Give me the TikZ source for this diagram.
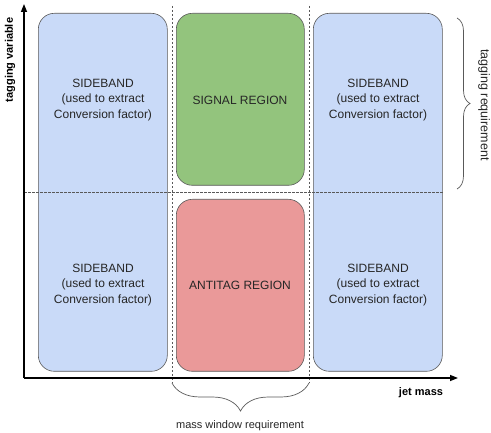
\documentclass[tikz,border=0pt]{standalone}
\usepackage{fontspec}
\setmainfont{Liberation Sans}
\usetikzlibrary{arrows.meta,decorations.pathreplacing}
\definecolor{sideblue}{HTML}{C9DAF8}
\definecolor{siggreen}{HTML}{93C47D}
\definecolor{antired}{HTML}{EA9999}
\definecolor{edgegray}{HTML}{595959}
\begin{document}
\begin{tikzpicture}[x=1pt,y=-1pt,
  region/.style={draw=edgegray,line width=0.6pt,rounded corners=16pt,inner sep=0pt},
  lbl/.style={font=\fontsize{12}{15.5}\selectfont,align=center,text=black!85},
  sep/.style={draw=edgegray,line width=0.6pt,dash pattern=on 2.5pt off 1.5pt},
  brc/.style={draw=edgegray,line width=0.7pt,decorate},
  axis/.style={line width=1.4pt,-{Triangle[length=8pt,width=6pt]}}]
\useasboundingbox (0,0) rectangle (491,433);
% regions
\node[region,fill=sideblue,minimum width=129pt,minimum height=358pt,anchor=north west] (sbl) at (38,13) {};
\node[region,fill=sideblue,minimum width=129pt,minimum height=358pt,anchor=north west] (sbr) at (313,13) {};
\node[region,fill=siggreen,minimum width=128pt,minimum height=172pt,anchor=north west] (sig) at (176,13) {};
\node[region,fill=antired,minimum width=128pt,minimum height=172pt,anchor=north west] (anti) at (176,199) {};
% labels
\node[lbl] (t1) at (103,100) {SIDEBAND\\(used to extract\\Conversion factor)};
\node[lbl] (t2) at (103,285) {SIDEBAND\\(used to extract\\Conversion factor)};
\node[lbl] (t3) at (378,100) {SIDEBAND\\(used to extract\\Conversion factor)};
\node[lbl] (t4) at (378,285) {SIDEBAND\\(used to extract\\Conversion factor)};
\node[lbl] (t5) at (240,100) {SIGNAL REGION};
\node[lbl] (t6) at (240,285) {ANTITAG REGION};
% dashed separators
\coordinate (v1t) at (172,6); \coordinate (v1b) at (172,383);
\coordinate (v2t) at (309,6); \coordinate (v2b) at (309,383);
\coordinate (hl) at (24,192); \coordinate (hr) at (443,192);
\draw[sep] (v1t) -- (v1b);
\draw[sep] (v2t) -- (v2b);
\draw[sep] (hl) -- (hr);
% axes
\coordinate (o) at (24,378);
\coordinate (ytip) at (24,4);
\coordinate (xtip) at (458,378);
\draw[axis] (o) -- (ytip);
\draw[axis] (o) -- (xtip);
\node[font=\bfseries\fontsize{11}{12}\selectfont,rotate=90] (yl) at (10,60) {tagging variable};
\node[font=\bfseries\fontsize{11}{12}\selectfont] (xl) at (421,393) {jet mass};
% braces
\coordinate (b1a) at (457,18); \coordinate (b1b) at (457,189);
\draw[brc,decoration={brace,amplitude=13pt}] (b1a) -- (b1b);
\node[font=\fontsize{12.5}{13}\selectfont,rotate=-90,text=black!85] (rl) at (484,105) {tagging requirement};
\draw[brc,decoration={brace,amplitude=28pt}] (v2b) -- (v1b);
\node[font=\fontsize{11}{12}\selectfont,text=black!85] (ml) at (240,426) {mass window requirement};
\end{tikzpicture}
\end{document}
